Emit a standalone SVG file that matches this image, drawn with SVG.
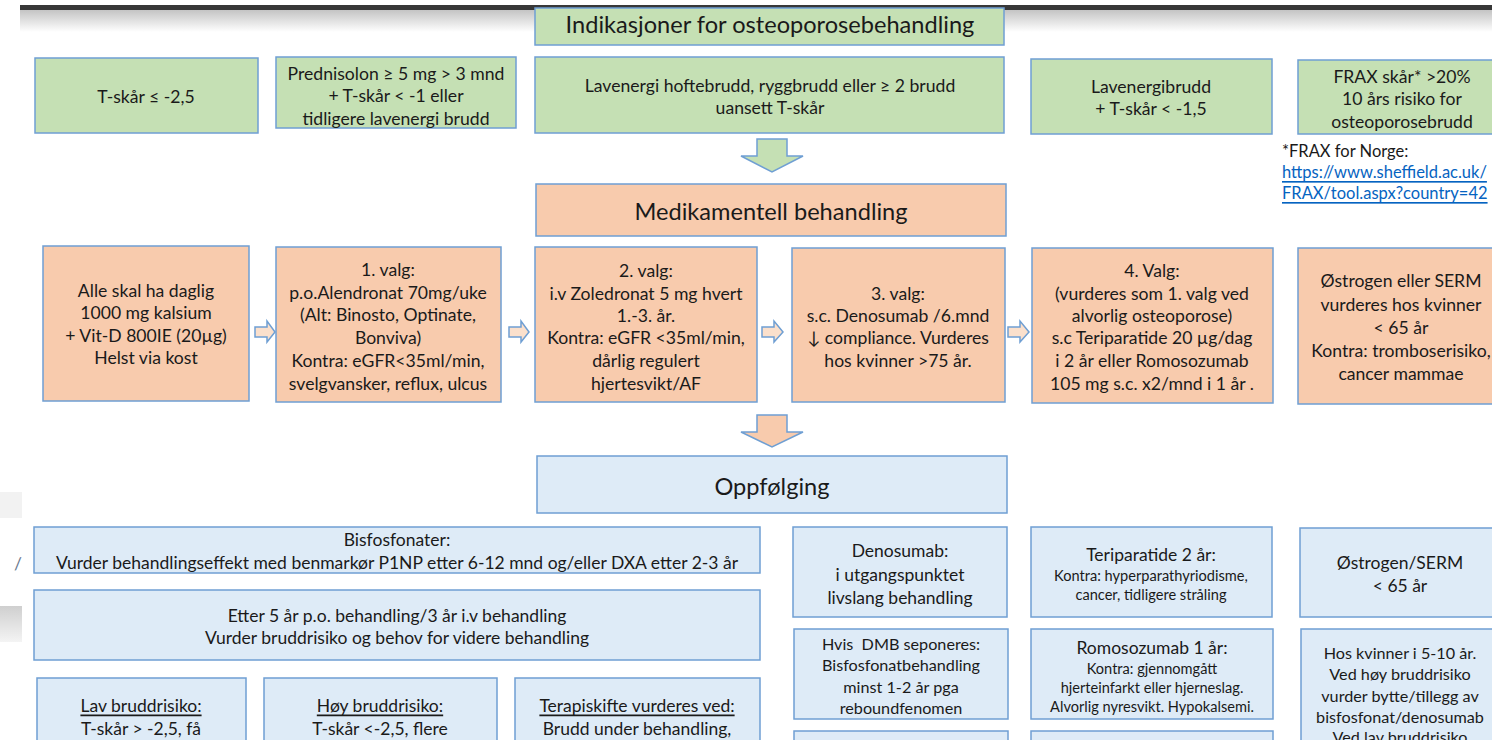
<svg xmlns="http://www.w3.org/2000/svg" width="1506" height="740" viewBox="0 0 1506 740">
<style>
text{font-family:Lato,"Open Sans","Liberation Sans",sans-serif;fill:#1a1a1a;text-anchor:middle;dominant-baseline:central}
.g{fill:#c5e0b4;stroke:#6f9fd3;stroke-width:1.5}
.o{fill:#f8cbad;stroke:#6f9fd3;stroke-width:1.5}
.b{fill:#deebf7;stroke:#6f9fd3;stroke-width:1.5}
.t22{font-size:23.6px}
.t17{font-size:17.6px}
.t16{font-size:17.5px}
.t15{font-size:16.2px}
.t13{font-size:14.6px}
.lnk{fill:#0563c1;text-decoration:underline;text-anchor:start;font-size:16.5px}
.u{text-decoration:underline}
</style>
<defs>
<linearGradient id="shadow" x1="0" y1="0" x2="0" y2="1"><stop offset="0" stop-color="#c4c4c4"/><stop offset="1" stop-color="#ffffff"/></linearGradient>
<linearGradient id="gr" x1="0" y1="0" x2="0" y2="1"><stop offset="0" stop-color="#cfcfcf"/><stop offset="1" stop-color="#f4f4f4"/></linearGradient>
<clipPath id="cr"><rect x="0" y="0" width="1492" height="740"/></clipPath>
</defs>
<rect width="1506" height="740" fill="#fff"/>
<!-- top bar -->
<rect x="20" y="10" width="1472" height="22" fill="url(#shadow)"/>
<rect x="20" y="5" width="1472" height="5" fill="#383838"/>
<!-- left artifacts -->
<rect x="0" y="492" width="22" height="26" fill="#f2f2f2"/>
<rect x="0" y="606" width="22" height="36" fill="url(#gr)"/>
<text x="18" y="563" class="t16" style="fill:#6a7a90">/</text>

<g id="hdr1"><rect x="535" y="8" width="469" height="37" class="g"/><text x="770" y="24" class="t22">Indikasjoner for osteoporosebehandling</text></g>

<g id="ind1"><rect x="35" y="58" width="223" height="75" class="g"/><text x="146" y="96" class="t17">T-skår ≤ -2,5</text></g>
<g id="ind2"><rect x="276" y="57" width="240" height="71" class="g"/><text x="396" y="73" class="t17">Prednisolon ≥ 5 mg &gt; 3 mnd</text><text x="396" y="95" class="t17">+ T-skår &lt; -1 eller</text><text x="396" y="118" class="t17">tidligere lavenergi brudd</text></g>
<g id="ind3"><rect x="535" y="57" width="469" height="76" class="g"/><text x="770" y="85" class="t17">Lavenergi hoftebrudd, ryggbrudd eller ≥ 2 brudd</text><text x="770" y="107" class="t17">uansett T-skår</text></g>
<g id="ind4"><rect x="1031" y="59" width="241" height="75" class="g"/><text x="1151" y="86" class="t17">Lavenergibrudd</text><text x="1151" y="108" class="t17">+ T-skår &lt; -1,5</text></g>
<g id="ind5" clip-path="url(#cr)"><rect x="1298" y="60" width="208" height="74" class="g"/><text x="1402" y="76" class="t17">FRAX skår* &gt;20%</text><text x="1402" y="98" class="t17">10 års risiko for</text><text x="1402" y="121" class="t17">osteoporosebrudd</text></g>
<g id="fraxnote"><text x="1282" y="151" style="text-anchor:start;font-size:16.5px">*FRAX for Norge:</text><text x="1282" y="172" class="lnk">https://www.sheffield.ac.uk/</text><text x="1282" y="193" class="lnk">FRAX/tool.aspx?country=42</text></g>

<g id="med"><rect x="536" y="184" width="470" height="52" class="o"/><text x="771" y="211" class="t22">Medikamentell behandling</text></g>

<g id="m1"><rect x="43" y="246" width="206" height="155" class="o"/><text x="146" y="290" class="t17">Alle skal ha daglig</text><text x="146" y="312" class="t17">1000 mg kalsium</text><text x="146" y="335" class="t17">+ Vit-D 800IE (20µg)</text><text x="146" y="357" class="t17">Helst via kost</text></g>
<g id="m2"><rect x="276" y="247" width="225" height="155" class="o"/><text x="388" y="269" class="t17">1. valg:</text><text x="388" y="292" class="t17">p.o.Alendronat 70mg/uke</text><text x="388" y="314" class="t17">(Alt: Binosto, Optinate,</text><text x="388" y="337" class="t17">Bonviva)</text><text x="388" y="360" class="t17">Kontra: eGFR&lt;35ml/min,</text><text x="388" y="383" class="t17">svelgvansker, reflux, ulcus</text></g>
<g id="m3"><rect x="535" y="247" width="222" height="155" class="o"/><text x="646" y="270" class="t17">2. valg:</text><text x="646" y="293" class="t17">i.v Zoledronat 5 mg hvert</text><text x="646" y="315" class="t17">1.-3. år.</text><text x="646" y="337" class="t17">Kontra: eGFR &lt;35ml/min,</text><text x="646" y="360" class="t17">dårlig regulert</text><text x="646" y="383" class="t17">hjertesvikt/AF</text></g>
<g id="m4"><rect x="792" y="248" width="213" height="154" class="o"/><text x="898" y="293" class="t17">3. valg:</text><text x="898" y="315" class="t17">s.c. Denosumab /6.mnd</text><text x="898" y="337" class="t17">↓ compliance. Vurderes</text><text x="898" y="360" class="t17">hos kvinner &gt;75 år.</text></g>
<g id="m5"><rect x="1032" y="248" width="241" height="155" class="o"/><text x="1152" y="270" class="t17">4. Valg:</text><text x="1152" y="293" class="t17">(vurderes som 1. valg ved</text><text x="1152" y="315" class="t17">alvorlig osteoporose)</text><text x="1152" y="337" class="t17">s.c Teriparatide 20 µg/dag</text><text x="1152" y="360" class="t17">i 2 år eller Romosozumab</text><text x="1152" y="383" class="t17">105 mg s.c. x2/mnd i 1 år .</text></g>
<g id="m6" clip-path="url(#cr)"><rect x="1298" y="248" width="208" height="156" class="o"/><text x="1401" y="280" class="t17">Østrogen eller SERM</text><text x="1401" y="304" class="t17">vurderes hos kvinner</text><text x="1401" y="327" class="t17">&lt; 65 år</text><text x="1401" y="350" class="t17">Kontra: tromboserisiko,</text><text x="1401" y="373" class="t17">cancer mammae</text></g>

<g id="opp"><rect x="537" y="456" width="470" height="57" class="b"/><text x="772" y="486" class="t22">Oppfølging</text></g>

<g id="bis"><rect x="34" y="527" width="726" height="46" class="b"/><text x="397" y="539" class="t16">Bisfosfonater:</text><text x="397" y="562" class="t16">Vurder behandlingseffekt med benmarkør P1NP etter 6-12 mnd og/eller DXA etter 2-3 år</text></g>
<g id="etter"><rect x="34" y="590" width="726" height="70" class="b"/><text x="397" y="615" class="t16">Etter 5 år p.o. behandling/3 år i.v behandling</text><text x="397" y="637" class="t16">Vurder bruddrisiko og behov for videre behandling</text></g>
<g id="lav"><rect x="37" y="678" width="209" height="80" class="b"/><text x="141" y="705" class="t16 u">Lav bruddrisiko:</text><text x="141" y="728" class="t16">T-skår &gt; -2,5, få</text></g>
<g id="hoy"><rect x="264" y="678" width="233" height="80" class="b"/><text x="380" y="705" class="t16 u">Høy bruddrisiko:</text><text x="380" y="728" class="t16">T-skår &lt;-2,5, flere</text></g>
<g id="terapi"><rect x="515" y="678" width="245" height="80" class="b"/><text x="637" y="705" class="t16 u">Terapiskifte vurderes ved:</text><text x="637" y="728" class="t16">Brudd under behandling,</text></g>

<g id="deno"><rect x="793" y="527" width="214" height="90" class="b"/><text x="900" y="550" class="t16">Denosumab:</text><text x="900" y="574" class="t16">i utgangspunktet</text><text x="900" y="597" class="t16">livslang behandling</text></g>
<g id="dmb"><rect x="794" y="629" width="214" height="90" class="b"/><text x="901" y="643" class="t15" style="white-space:pre">Hvis  DMB seponeres:</text><text x="901" y="664" class="t15">Bisfosfonatbehandling</text><text x="901" y="686" class="t15">minst 1-2 år pga</text><text x="901" y="707" class="t15">reboundfenomen</text></g>
<g id="deno3"><rect x="794" y="731" width="214" height="30" class="b"/></g>
<g id="teri"><rect x="1031" y="527" width="241" height="90" class="b"/><text x="1151" y="554" class="t16">Teriparatide 2 år:</text><text x="1151" y="575" class="t13">Kontra: hyperparathyriodisme,</text><text x="1151" y="594" class="t13">cancer, tidligere stråling</text></g>
<g id="romo"><rect x="1031" y="629" width="242" height="90" class="b"/><text x="1152" y="647" class="t16">Romosozumab 1 år:</text><text x="1152" y="668" class="t13">Kontra: gjennomgått</text><text x="1152" y="687" class="t13">hjerteinfarkt eller hjerneslag.</text><text x="1152" y="706" class="t13">Alvorlig nyresvikt. Hypokalsemi.</text></g>
<g id="teri3"><rect x="1031" y="731" width="242" height="30" class="b"/></g>
<g id="ostr" clip-path="url(#cr)"><rect x="1300" y="528" width="206" height="89" class="b"/><text x="1400" y="562" class="t16">Østrogen/SERM</text><text x="1400" y="585" class="t16">&lt; 65 år</text></g>
<g id="hos" clip-path="url(#cr)"><rect x="1301" y="629" width="205" height="130" class="b"/><text x="1400" y="652" class="t15">Hos kvinner i 5-10 år.</text><text x="1400" y="673" class="t15">Ved høy bruddrisiko</text><text x="1400" y="695" class="t15">vurder bytte/tillegg av</text><text x="1400" y="716" class="t15">bisfosfonat/denosumab</text><text x="1400" y="736" class="t15">Ved lav bruddrisiko</text></g>

<g id="connectors">
<polygon points="757,139 787,139 787,156 803,156 772,172 741,156 757,156" fill="#c5e0b4" stroke="#6f9fd3" stroke-width="1.5"/>
<polygon points="757,415 787,415 787,432 803,432 772,447 741,432 757,432" fill="#f8cbad" stroke="#6f9fd3" stroke-width="1.5"/>
<polygon points="255,327 267,327 267,321 275,332 267,342 267,337 255,337" fill="#fbe0cc" stroke="#6f9fd3" stroke-width="1.5"/>
<polygon points="509,327 521,327 521,321 529,332 521,342 521,337 509,337" fill="#fbe0cc" stroke="#6f9fd3" stroke-width="1.5"/>
<polygon points="762,327 774,327 774,321 783,332 774,342 774,337 762,337" fill="#fbe0cc" stroke="#6f9fd3" stroke-width="1.5"/>
<polygon points="1008,327 1020,327 1020,321 1029,332 1020,342 1020,337 1008,337" fill="#fbe0cc" stroke="#6f9fd3" stroke-width="1.5"/>
</g>
</svg>
